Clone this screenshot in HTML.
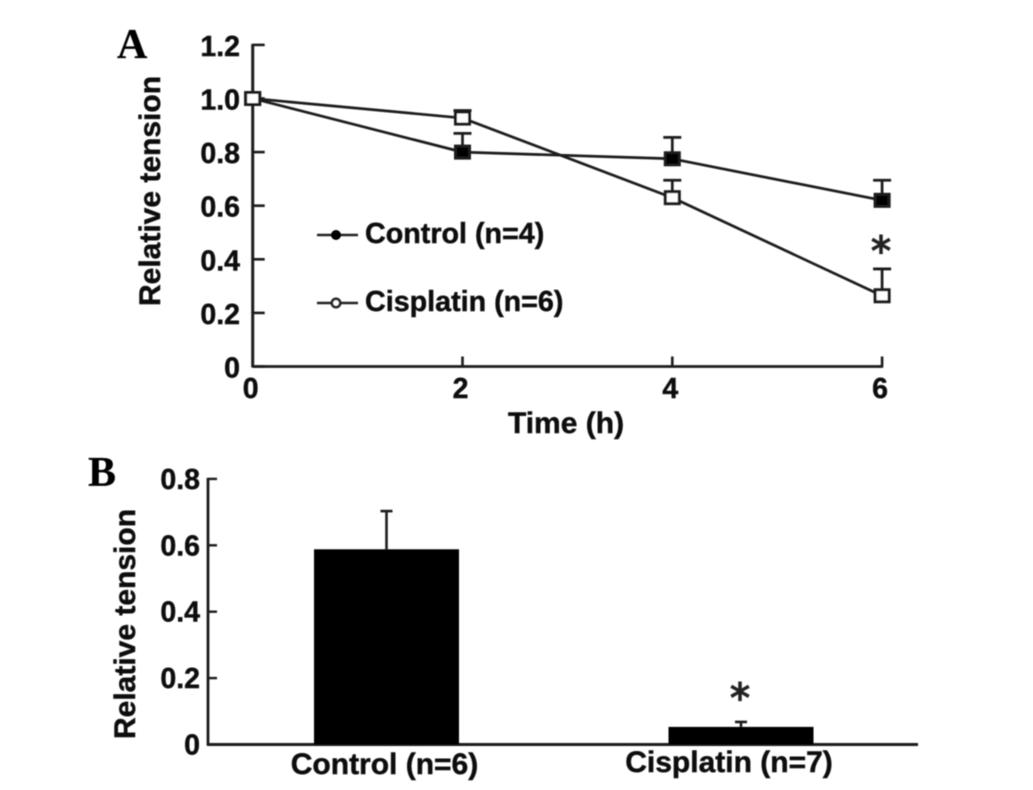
<!DOCTYPE html>
<html>
<head>
<meta charset="utf-8">
<title>Relative tension charts</title>
<style>
html,body{margin:0;padding:0;background:#fff;width:1033px;height:790px;overflow:hidden}
svg{display:block}
text{font-family:"Liberation Sans",sans-serif;font-weight:bold;fill:#0a0a0a;stroke:#0a0a0a;stroke-width:.45px}
.panel{font-family:"Liberation Serif",serif;font-size:42px;fill:#000;stroke-width:.2px}
.star{font-family:"DejaVu Sans",sans-serif;font-weight:normal;font-size:40px;fill:#222;stroke:#222;stroke-width:1.3px}
</style>
</head>
<body>
<svg id="figure" width="1033" height="790" viewBox="0 0 1033 790">
<defs><filter id="soft" x="-5%" y="-5%" width="110%" height="110%"><feGaussianBlur stdDeviation="0.5"/></filter></defs>
<g id="root" filter="url(#soft)">
<text class="panel" x="117" y="58">A</text>
<text class="panel" x="88" y="486">B</text>
<text x="0" y="0" font-size="30" text-anchor="middle" transform="translate(160 191) rotate(-90)">Relative tension</text>
<text x="566" y="433" font-size="30" text-anchor="middle">Time (h)</text>
<text x="0" y="0" font-size="30" text-anchor="middle" transform="translate(135 624) rotate(-90)">Relative tension</text>
<text x="365" y="243" font-size="28.7">Control (n=4)</text>
<text x="365" y="311" font-size="28.7">Cisplatin (n=6)</text>
<line x1="317" y1="235" x2="358" y2="235" stroke="#222" stroke-width="2.6"/>
<circle cx="336" cy="235" r="5" fill="#000"/>
<line x1="317" y1="303" x2="358" y2="303" stroke="#222" stroke-width="2.6"/>
<circle cx="336" cy="303" r="4.2" fill="#fff" stroke="#222" stroke-width="2.6"/>
<text class="star" x="881" y="265" text-anchor="middle">*</text>
<text class="star" x="740" y="712" text-anchor="middle">*</text>
</g>
</svg>
<script>
var timeValues = [0, 2, 4, 6];
var controlMeans = [1.0, 0.8, 0.775, 0.62];
var controlErrorTops = [1.0, 0.87, 0.855, 0.695];
var cisplatinMeans = [1.0, 0.927, 0.63, 0.264];
var cisplatinErrorTops = [1.0, 0.955, 0.695, 0.364];
var lineYTicks = [0, 0.2, 0.4, 0.6, 0.8, 1.0, 1.2];
var lineYTickLabels = ["0", "0.2", "0.4", "0.6", "0.8", "1.0", "1.2"];
var lineXTicks = [0, 2, 4, 6];
var lineXTickLabels = ["0", "2", "4", "6"];
var barCategories = ["Control (n=6)", "Cisplatin (n=7)"];
var barMeans = [0.588, 0.053];
var barErrorTops = [0.703, 0.068];
var barYTicks = [0, 0.2, 0.4, 0.6, 0.8];
var barYTickLabels = ["0", "0.2", "0.4", "0.6", "0.8"];

var root = document.getElementById('root');
var NS = 'http://www.w3.org/2000/svg';
var INK = '#1c1c1c';

function lineX(v) { return 252.7 + v * 104.9; }
function lineY(v) { return 366.5 - v * 268; }
function barY(v) { return 744.5 - v * 332; }
function barCenter(i) { return 386.5 + i * 354.5; }

function make(tag, attrs, text) {
  var el = document.createElementNS(NS, tag);
  for (var k in attrs) { el.setAttribute(k, attrs[k]); }
  if (text !== undefined) { el.textContent = text; }
  root.appendChild(el);
  return el;
}
function seg(x1, y1, x2, y2, w) {
  return make('line', { x1: x1, y1: y1, x2: x2, y2: y2, stroke: INK, 'stroke-width': w });
}

/* Panel A axes */
var el = seg(lineX(0), lineY(1.2) - 1, lineX(0), lineY(0) + 1, 3);


el = seg(lineX(0), lineY(0), lineX(6) + 1, lineY(0), 2.8);



lineYTicks.forEach(function (t, i) {
  var tick = seg(lineX(0), lineY(t), lineX(0) + 12, lineY(t), 2.6);
  
  
  var label = make('text', { x: 240, y: lineY(t) + 11, 'font-size': 28.5, 'text-anchor': 'end' }, lineYTickLabels[i]);
  
  
});
lineXTicks.forEach(function (t, i) {
  if (t !== 0) {
    var tick = seg(lineX(t), lineY(0) - 10, lineX(t), lineY(0), 2.6);
    
    
  }
  var label = make('text', { x: lineX(t) - 2, y: 398, 'font-size': 28.5, 'text-anchor': 'middle' }, lineXTickLabels[i]);
  
  
});

function polyline(means) {
  return means.map(function (m, i) { return lineX(timeValues[i]) + ',' + lineY(m); }).join(' ');
}
function drawSeries(name, means, tops, fill) {
  var p = make('polyline', { points: polyline(means), fill: 'none', stroke: INK, 'stroke-width': 2.7 });
  
  
  means.forEach(function (m, i) {
    var x = lineX(timeValues[i]);
    if (tops[i] > m) {
      var stem = seg(x, lineY(tops[i]), x, lineY(m), 2.7);
      
      
      var cap = seg(x - 9, lineY(tops[i]), x + 9, lineY(tops[i]), 2.8);
      
      
    }
  });
  means.forEach(function (m, i) {
    var x = lineX(timeValues[i]);
    var r = make('rect', { x: x - 7, y: lineY(m) - 6, width: 14, height: 12, fill: fill, stroke: INK, 'stroke-width': 3 });
    
    
  });
}
drawSeries('control', controlMeans, controlErrorTops, '#000');
drawSeries('cisplatin', cisplatinMeans, cisplatinErrorTops, '#fff');

/* Panel B axes */
el = seg(208, barY(0.8) - 1, 208, barY(0) + 1, 2.8);


el = seg(207, barY(0), 918, barY(0), 3);



barYTicks.forEach(function (t, i) {
  var tick = seg(208, barY(t), 217, barY(t), 2.4);
  
  
  var label = make('text', { x: 200, y: barY(t) + 10, 'font-size': 28.5, 'text-anchor': 'end' }, barYTickLabels[i]);
  
  
});

barCategories.forEach(function (c, i) {
  var cx = barCenter(i);
  var stem = seg(cx, barY(barErrorTops[i]), cx, barY(barMeans[i]), 2.6);
  
  
  var cap = seg(cx - 6, barY(barErrorTops[i]), cx + 6, barY(barErrorTops[i]), 2.6);
  
  
  var bar = make('rect', { x: cx - 72.5, y: barY(barMeans[i]), width: 145, height: barY(0) - barY(barMeans[i]), fill: '#000' });
  
  
  var label = make('text', { x: cx - 2 - i * 10, y: 774 - i * 2, 'font-size': 30, 'text-anchor': 'middle' }, c);
  
  
});
</script>
</body>
</html>
